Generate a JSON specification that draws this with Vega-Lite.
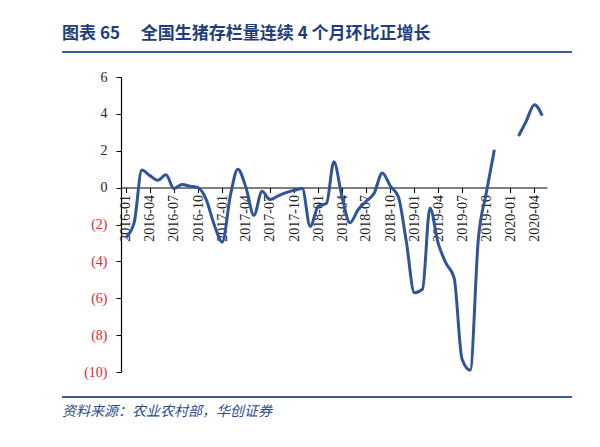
{
  "$schema": "https://vega.github.io/schema/vega-lite/v6.json",
  "autosize": {"type": "none"},
  "width": 426,
  "height": 295,
  "padding": {"left": 121, "top": 77, "right": 53, "bottom": 75},
  "background": "white",
  "config": {
    "view": {"stroke": null},
    "axisY": {"labelOverlap": false, "tickCount": 9, "labelFont": "Liberation Serif", "labelFontSize": 14}
  },
  "datasets": {
    "series": [
      {"month": "2016-01-01", "value": -2.7},
      {"month": "2016-02-01", "value": -1.9},
      {"month": "2016-03-01", "value": 0.95},
      {"month": "2016-04-01", "value": 0.65},
      {"month": "2016-05-01", "value": 0.4},
      {"month": "2016-06-01", "value": 0.7},
      {"month": "2016-07-01", "value": -0.05},
      {"month": "2016-08-01", "value": 0.17},
      {"month": "2016-09-01", "value": 0.08},
      {"month": "2016-10-01", "value": 0.0},
      {"month": "2016-11-01", "value": -0.65},
      {"month": "2016-12-01", "value": -2.0},
      {"month": "2017-01-01", "value": -2.95},
      {"month": "2017-02-01", "value": -0.4},
      {"month": "2017-03-01", "value": 1.0},
      {"month": "2017-04-01", "value": 0.0},
      {"month": "2017-05-01", "value": -1.5},
      {"month": "2017-06-01", "value": -0.2},
      {"month": "2017-07-01", "value": -0.65},
      {"month": "2017-08-01", "value": -0.45},
      {"month": "2017-09-01", "value": -0.27},
      {"month": "2017-10-01", "value": -0.15},
      {"month": "2017-11-01", "value": -0.05},
      {"month": "2017-12-01", "value": -2.1},
      {"month": "2018-01-01", "value": -1.0},
      {"month": "2018-02-01", "value": -0.85},
      {"month": "2018-03-01", "value": 1.4},
      {"month": "2018-04-01", "value": -0.5},
      {"month": "2018-05-01", "value": -1.9},
      {"month": "2018-06-01", "value": -1.2},
      {"month": "2018-07-01", "value": -0.75},
      {"month": "2018-08-01", "value": -0.3},
      {"month": "2018-09-01", "value": 0.8},
      {"month": "2018-10-01", "value": 0.1},
      {"month": "2018-11-01", "value": -0.5},
      {"month": "2018-12-01", "value": -2.9},
      {"month": "2019-01-01", "value": -5.7},
      {"month": "2019-02-01", "value": -5.5},
      {"month": "2019-03-01", "value": -1.1},
      {"month": "2019-04-01", "value": -3.0},
      {"month": "2019-05-01", "value": -4.1},
      {"month": "2019-06-01", "value": -4.9},
      {"month": "2019-07-01", "value": -9.3},
      {"month": "2019-08-01", "value": -9.9},
      {"month": "2019-09-01", "value": -2.8},
      {"month": "2019-10-01", "value": -0.3},
      {"month": "2019-11-01", "value": 2.05},
      {"month": "2019-12-01", "value": null},
      {"month": "2020-01-01", "value": null},
      {"month": "2020-02-01", "value": 2.8},
      {"month": "2020-03-01", "value": 3.6},
      {"month": "2020-04-01", "value": 4.5},
      {"month": "2020-05-01", "value": 3.9}
    ]
  },
  "layer": [
    {
      "data": {"name": "series"},
      "mark": {"type": "line", "interpolate": "monotone", "color": "#2F5597", "strokeWidth": 3, "invalid": "break-paths-show-domains"},
      "encoding": {
        "x": {
          "field": "month",
          "type": "temporal",
          "scale": {
            "type": "utc",
            "domain": [
              {"year": 2015, "month": 12, "date": 13, "utc": true},
              {"year": 2020, "month": 5, "date": 19, "utc": true}
            ]
          },
          "axis": {
            "orient": "bottom",
            "offset": -184.5,
            "labelExpr": "utcFormat(datum.value, '%Y-%m')",
            "tickCount": {"interval": "month", "step": 3},
            "labelAngle": 270,
            "labelFont": "Liberation Serif",
            "labelFontSize": 14,
            "labelColor": "#222222",
            "labelPadding": 2,
            "labelOverlap": false,
            "labelFlush": false,
            "tickColor": "#000000",
            "tickSize": 5,
            "domainColor": "#000000",
            "domainWidth": 1.2,
            "grid": false,
            "title": null
          }
        },
        "y": {
          "field": "value",
          "type": "quantitative",
          "scale": {"domain": [-10, 6], "nice": false},
          "axis": {
            "values": [-10, -8, -6, -4, -2, 0, 2, 4, 6],
            "tickCount": 9,
            "labelExpr": "datum.value < 0 ? '(' + abs(datum.value) + ')' : datum.label",
            "labelColor": {"condition": {"test": "datum.value < 0", "value": "#E8262B"}, "value": "#222222"},
            "labelFont": "Liberation Serif",
            "labelFontSize": 14,
            "labelPadding": 9,
            "labelOverlap": false,
            "labelFlush": false,
            "tickSize": 5,
            "tickColor": "#000000",
            "domainColor": "#000000",
            "domainWidth": 1.2,
            "grid": false,
            "title": null
          }
        }
      }
    },
    {
      "data": {"values": [{"t": "图表 65\u3000 全国生猪存栏量连续 4 个月环比正增长"}]},
      "mark": {"type": "text", "align": "left", "baseline": "middle", "font": "Noto Sans CJK SC", "fontSize": 17, "fontWeight": "bold", "color": "#1F3E7C"},
      "encoding": {
        "text": {"field": "t"},
        "x": {"datum": {"year": 2015, "month": 5, "date": 3, "utc": true}, "type": "temporal"},
        "y": {"datum": 8.34, "type": "quantitative"}
      }
    },
    {
      "data": {"values": [{"t": "资料来源：农业农村部，华创证券"}]},
      "mark": {"type": "text", "align": "left", "baseline": "middle", "font": "Noto Sans CJK SC", "fontSize": 14, "fontStyle": "italic", "color": "#2A4B8C"},
      "encoding": {
        "text": {"field": "t"},
        "x": {"datum": {"year": 2015, "month": 5, "date": 3, "utc": true}, "type": "temporal"},
        "y": {"datum": -12.17, "type": "quantitative"}
      }
    },
    {
      "data": {"values": [{"pos": 7.36}, {"pos": -11.36}]},
      "mark": {"type": "rule", "color": "#3A5C9C", "strokeWidth": 2},
      "encoding": {
        "x": {"datum": {"year": 2015, "month": 5, "date": 3, "utc": true}, "type": "temporal"},
        "x2": {"datum": {"year": 2020, "month": 8, "date": 22, "utc": true}},
        "y": {"field": "pos", "type": "quantitative"}
      }
    }
  ]
}
